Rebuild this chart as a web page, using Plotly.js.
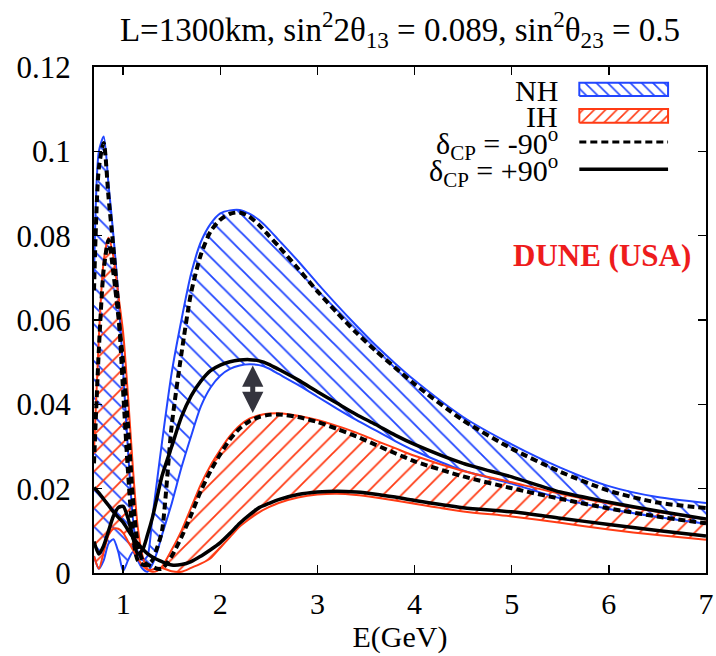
<!DOCTYPE html>
<html><head><meta charset="utf-8">
<script src="https://cdn.plot.ly/plotly-3.0.1.min.js"></script>
<style>html,body{margin:0;padding:0;background:#fff}#chart{width:716px;height:656px}</style>
</head><body><div id="chart"></div>
<script>
// Neutrino energy grid (GeV)
const energy = [0.7,0.75,0.8,0.85,0.9,0.95,1.0,1.05,1.1,1.15,1.2,1.25,1.3,1.35,1.4,1.5,1.6,1.7,1.8,1.9,2.0,2.1,2.2,2.3,2.4,2.5,2.6,2.8,3.0,3.2,3.4,3.6,3.8,4.0,4.5,5.0,5.5,6.0,6.5,7.0];
// NH band (max / min over deltaCP)
const nhMax = [0.070,0.100,0.1035,0.092,0.080,0.066,0.048,0.029,0.013,0.005,0.003,0.004,0.013,0.022,0.031,0.0475,0.0600,0.0710,0.0785,0.0828,0.0853,0.0860,0.0861,0.0852,0.0837,0.0815,0.0790,0.0740,0.0687,0.0636,0.0587,0.0540,0.0497,0.0457,0.0370,0.0305,0.0250,0.0206,0.0180,0.0166];
const nhMin = [0.004,0.001,0.003,0.007,0.008,0.005,0.0005,0.003,0.005,0.003,0.001,0.0003,0.002,0.005,0.009,0.0165,0.0250,0.0325,0.0395,0.0440,0.0468,0.0484,0.0492,0.0495,0.0493,0.0485,0.0472,0.0446,0.0418,0.0390,0.0363,0.0338,0.0313,0.0290,0.0243,0.0212,0.0177,0.0152,0.0133,0.0117];
// NH, deltaCP = -90 and +90
const nhMinus90 = [0.067,0.096,0.102,0.089,0.077,0.063,0.043,0.024,0.009,0.003,0.002,0.002,0.003,0.006,0.010,0.035,0.052,0.0665,0.0755,0.0810,0.0838,0.0852,0.0855,0.0845,0.0825,0.0800,0.0775,0.0722,0.0668,0.0618,0.0570,0.0527,0.0487,0.0448,0.0362,0.0295,0.0240,0.0195,0.0167,0.0154];
const nhPlus90 = [0.0075,0.0045,0.0065,0.010,0.0135,0.0155,0.0158,0.013,0.0085,0.0045,0.0055,0.009,0.013,0.018,0.023,0.030,0.037,0.042,0.0455,0.0480,0.0493,0.0501,0.0505,0.0506,0.0503,0.0495,0.0483,0.0458,0.0430,0.0403,0.0376,0.0352,0.0327,0.0305,0.0260,0.0228,0.0192,0.0168,0.0147,0.0128];
// IH band
const ihMax = [0.029,0.056,0.074,0.0795,0.075,0.066,0.057,0.042,0.025,0.011,0.004,0.001,0.0003,0.0005,0.0015,0.0055,0.0100,0.0155,0.0210,0.0255,0.0292,0.0325,0.0350,0.0366,0.0374,0.0378,0.0379,0.0373,0.0363,0.0349,0.0333,0.0314,0.0296,0.0278,0.0242,0.0215,0.0188,0.0165,0.0145,0.0128];
const ihMin = [0.004,0.001,0.005,0.009,0.0105,0.0105,0.0095,0.0075,0.0055,0.0035,0.0018,0.0008,0.0008,0.0012,0.0012,0.0004,0.0003,0.0012,0.0022,0.0035,0.0060,0.0085,0.0110,0.0128,0.0144,0.0156,0.0166,0.0179,0.0186,0.0188,0.0185,0.0179,0.0172,0.0164,0.0146,0.0134,0.0119,0.0103,0.0090,0.0079];
const ihMinus90 = [0.026,0.053,0.072,0.079,0.071,0.061,0.050,0.035,0.018,0.007,0.003,0.002,0.0015,0.001,0.001,0.004,0.0085,0.0138,0.0195,0.0242,0.0282,0.0317,0.0343,0.0360,0.0370,0.0375,0.0376,0.0370,0.0358,0.0342,0.0324,0.0304,0.0284,0.0265,0.0229,0.0201,0.0176,0.0153,0.0134,0.0118];
const ihPlus90 = [0.0203,0.019,0.0175,0.016,0.0145,0.0132,0.012,0.0102,0.0085,0.007,0.0057,0.0046,0.0038,0.0032,0.0027,0.0019,0.0020,0.0027,0.0040,0.0055,0.0072,0.0094,0.0118,0.0138,0.0155,0.0165,0.0174,0.0186,0.0192,0.0194,0.0192,0.0187,0.0180,0.0172,0.0155,0.0145,0.0130,0.0115,0.0101,0.0088];

const xTicks = [1,2,3,4,5,6,7];
const yTicks = [0,0.02,0.04,0.06,0.08,0.1,0.12];
const yTickText = ['0','0.02','0.04','0.06','0.08','0.1','0.12'];

const FONT = 'Liberation Serif, "Times New Roman", serif';
const BLUE = '#2146ff';
const RED = '#ff3b14';
const CLEAR = 'rgba(0,0,0,0)';

function bandShape(lo, hi) {
  return {
    x: energy.concat(energy.slice().reverse()),
    y: hi.concat(lo.slice().reverse())
  };
}
const nhBand = bandShape(nhMin, nhMax);
const ihBand = bandShape(ihMin, ihMax);

const traces = [
  {x: nhBand.x, y: nhBand.y, type:'scatter', mode:'none', fill:'toself', fillcolor: CLEAR,
   fillpattern:{shape:'\\', fgcolor: BLUE, bgcolor: CLEAR, size: 13, solidity: 0.14, fillmode:'replace'}, hoverinfo:'skip'},
  {x: ihBand.x, y: ihBand.y, type:'scatter', mode:'none', fill:'toself', fillcolor: CLEAR,
   fillpattern:{shape:'/', fgcolor: RED, bgcolor: CLEAR, size: 13, solidity: 0.14, fillmode:'replace'}, hoverinfo:'skip'},
  {x: energy, y: nhMax, type:'scatter', mode:'lines', line:{color: BLUE, width:2, shape:'spline', smoothing:0.7}},
  {x: energy, y: nhMin, type:'scatter', mode:'lines', line:{color: BLUE, width:2, shape:'spline', smoothing:0.7}},
  {x: energy, y: ihMax, type:'scatter', mode:'lines', line:{color: RED, width:2, shape:'spline', smoothing:0.7}},
  {x: energy, y: ihMin, type:'scatter', mode:'lines', line:{color: RED, width:2, shape:'spline', smoothing:0.7}},
  {x: energy, y: nhMinus90, type:'scatter', mode:'lines', line:{color:'#000', width:4, dash:'7px,4px', shape:'spline', smoothing:0.7}},
  {x: energy, y: ihMinus90, type:'scatter', mode:'lines', line:{color:'#000', width:4, dash:'7px,4px', shape:'spline', smoothing:0.7}},
  {x: energy, y: nhPlus90, type:'scatter', mode:'lines', line:{color:'#000', width:3.5, shape:'spline', smoothing:0.7}},
  {x: energy, y: ihPlus90, type:'scatter', mode:'lines', line:{color:'#000', width:3.5, shape:'spline', smoothing:0.7}}
];

// Legend key glyphs drawn on an overlay axis spanning the plot area (0..1)
const keyX0 = 0.793, keyX1 = 0.938;
traces.push(
  {x:[keyX0,keyX1,keyX1,keyX0,keyX0], y:[0.9427,0.9427,0.969,0.969,0.9427], xaxis:'x2', yaxis:'y2', type:'scatter', mode:'lines',
   fill:'toself', fillcolor: CLEAR, fillpattern:{shape:'\\', fgcolor: BLUE, bgcolor: CLEAR, size: 8, solidity: 0.2}, line:{color: BLUE, width:2}},
  {x:[keyX0,keyX1,keyX1,keyX0,keyX0], y:[0.890,0.890,0.917,0.917,0.890], xaxis:'x2', yaxis:'y2', type:'scatter', mode:'lines',
   fill:'toself', fillcolor: CLEAR, fillpattern:{shape:'/', fgcolor: RED, bgcolor: CLEAR, size: 8, solidity: 0.2}, line:{color: RED, width:2}},
  {x:[keyX0,keyX1], y:[0.852,0.852], xaxis:'x2', yaxis:'y2', type:'scatter', mode:'lines', line:{color:'#000', width:3, dash:'7px,4px'}},
  {x:[keyX0,keyX1], y:[0.798,0.798], xaxis:'x2', yaxis:'y2', type:'scatter', mode:'lines', line:{color:'#000', width:3.5}}
);

const legendText = (txt, y) => ({xref:'paper', yref:'paper', x:0.762, y:y, xanchor:'right', yanchor:'middle',
  text: txt, showarrow:false, font:{family: FONT, size:30, color:'#000'}});

const layout = {
  width:716, height:656,
  margin:{l:94, r:10, t:67, b:83},
  paper_bgcolor:'#fff', plot_bgcolor:'#fff',
  showlegend:false,
  font:{family: FONT, size:30, color:'#000'},
  title:{text:'L=1300km, sin<sup>2</sup>2θ<sub>13</sub> = 0.089, sin<sup>2</sup>θ<sub>23</sub> = 0.5',
         font:{family: FONT, size:33, color:'#000'}, x:0.5, xref:'paper', xanchor:'center', y:0.955, yref:'container', yanchor:'middle'},
  xaxis:{range:[0.7,7], tickmode:'array', tickvals:xTicks, ticktext:xTicks.map(String), ticks:'inside', ticklen:8, tickwidth:1.5, tickcolor:'#000',
         showline:true, linewidth:2, linecolor:'#000', mirror:'ticks', showgrid:false, zeroline:false,
         tickfont:{family: FONT, size:30}, ticklabelstandoff:3,
         title:{text:'E(GeV)', font:{family: FONT, size:30}, standoff:0}},
  yaxis:{range:[0,0.12], tickmode:'array', tickvals:yTicks, ticktext:yTickText, ticks:'inside', ticklen:8, tickwidth:1.5, tickcolor:'#000',
         showline:true, linewidth:2, linecolor:'#000', mirror:'ticks', showgrid:false, zeroline:false,
         tickfont:{family: FONT, size:31}, ticklabelstandoff:15},
  xaxis2:{overlaying:'x', range:[0,1], visible:false, anchor:'y2'},
  yaxis2:{overlaying:'y', range:[0,1], visible:false, anchor:'x2'},
  annotations:[
    legendText('NH', 0.9545),
    legendText('IH', 0.902),
    legendText('δ<sub>CP</sub> = -90<sup>o</sup>', 0.849),
    legendText('δ<sub>CP</sub> = +90<sup>o</sup>', 0.795),
    {xref:'paper', yref:'paper', x:0.830, y:0.628, xanchor:'center', yanchor:'middle', showarrow:false,
     text:'<b>DUNE (USA)</b>', font:{family: FONT, size:31, color:'#ee1c1c'}},
    {x:2.334, y:0.0492, ax:2.334, ay:0.0376, xref:'x', yref:'y', axref:'x', ayref:'y', text:'', showarrow:true,
     arrowhead:2, startarrowhead:2, arrowside:'end+start', arrowsize:0.85, startarrowsize:0.85, arrowwidth:5, arrowcolor:'#34343e', standoff:0, startstandoff:0}
  ]
};

Plotly.newPlot('chart', traces, layout, {displayModeBar:false, staticPlot:true});
</script>
</body></html>
